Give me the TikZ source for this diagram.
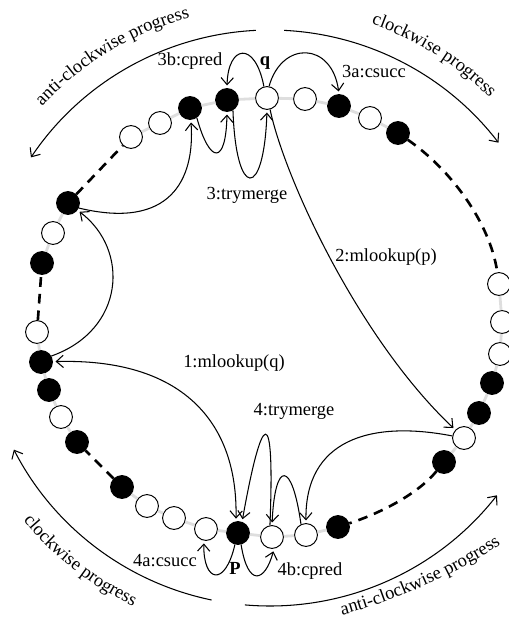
\documentclass[tikz,border=0pt]{standalone}
\usepackage{fontspec}
\setmainfont{Liberation Serif}
\usetikzlibrary{arrows.meta,decorations.text}
\newcommand\lblfont{\rmfamily\fontsize{10.5}{12}\selectfont}
\begin{document}
\begin{tikzpicture}[x=0.02cm,y=-0.02cm,
  wn/.style={circle,draw,fill=white,line width=0.55pt,minimum size=13pt,inner sep=0pt},
  bn/.style={wn,fill=black},
  ring/.style={line width=1.6pt,black!13},
  dsh/.style={line width=1.5pt,dash pattern=on 5.5pt off 4pt},
  arr/.style={line width=0.6pt,-{Straight Barb[length=4pt,width=7pt]}},
  con/.style={arr,shorten >=1.5pt},
  lbl/.style={font=\lblfont,inner sep=0pt},
  bold/.style={font=\lblfont\bfseries,inner sep=0pt},
]
\useasboundingbox (0,0) rectangle (508,626);
\coordinate (C) at (270,318);
% ring nodes
\node[wn] (n1) at (131,137) {};
\node[wn] (n2) at (160,123) {};
\node[bn] (n3) at (190,108) {};
\node[bn] (n4) at (227,100) {};
\node[wn] (q) at (267,98) {};
\node[wn] (n6) at (305,99) {};
\node[bn] (n7) at (339,106) {};
\node[wn] (n8) at (370,118) {};
\node[bn] (n9) at (398,133) {};
\node[wn] (r1) at (499,284) {};
\node[wn] (r2) at (502,322) {};
\node[wn] (r3) at (500,354) {};
\node[bn] (r4) at (492,383) {};
\node[bn] (r5) at (479,413) {};
\node[wn] (r6) at (464,438) {};
\node[bn] (r7) at (444,462) {};
\node[bn] (b1) at (338,527) {};
\node[wn] (b2) at (306,535) {};
\node[wn] (b3) at (272,537) {};
\node[bn] (p) at (238,533) {};
\node[wn] (b5) at (206,529) {};
\node[wn] (b6) at (174,518) {};
\node[wn] (b7) at (147,506) {};
\node[bn] (b8) at (122,487) {};
\node[bn] (l1) at (77,442) {};
\node[wn] (l2) at (61,417) {};
\node[bn] (l3) at (49,390) {};
\node[bn] (l4) at (41,362) {};
\node[wn] (l5) at (37,332) {};
\node[bn] (l6) at (42,263) {};
\node[wn] (l7) at (53,233) {};
\node[bn] (l8) at (68,203) {};
% ring segments
\draw[ring] (n1)--(n2) (n2)--(n3) (n3)--(n4) (n4)--(q) (q)--(n6) (n6)--(n7) (n7)--(n8) (n8)--(n9);
\draw[ring] (r1)--(r2) (r2)--(r3) (r3)--(r4) (r4)--(r5) (r5)--(r6) (r6)--(r7);
\draw[ring] (b1)--(b2) (b2)--(b3) (b3)--(p) (p)--(b5) (b5)--(b6) (b6)--(b7) (b7)--(b8);
\draw[ring] (l1)--(l2) (l2)--(l3) (l3)--(l4) (l4)--(l5);
\draw[ring] (l6)--(l7) (l7)--(l8);
\draw[dsh] (n9) .. controls (450,169) and (490,222) .. (r1);
\draw[dsh] (r7) .. controls (417,495) and (378,514) .. (b1);
\draw[dsh] (b8) -- (l1);
\draw[dsh] (l5) -- (l6);
\draw[dsh] (l8) -- (n1);
% labels
\node[lbl] (t3b) at (190,61) {3b:cpred};
\node[bold] (tq) at (265,63) {q};
\node[lbl] (t3a) at (374,72) {3a:csucc};
\node[lbl] (t3) at (247,195) {3:trymerge};
\node[lbl] (t2) at (386,257) {2:mlookup(p)};
\node[lbl] (t1) at (234,363) {1:mlookup(q)};
\node[lbl] (t4) at (294,411) {4:trymerge};
\node[lbl] (t4a) at (165,561) {4a:csucc};
\node[bold] (tp) at (235,568) {P};
\node[lbl] (t4b) at (310,571) {4b:cpred};
% connectors
\draw[con] (n3.-55) .. controls (210,165) and (226,165) .. (n4.south);
\draw[con] (n4.-60) .. controls (236,200) and (264,200) .. (q.south);
\draw[con] (q.105) .. controls (255,40) and (228,45) .. (n4.north);
\draw[con] (q.80) .. controls (282,40) and (332,42) .. (n7.north);
\draw[con] (q.-75) .. controls (285,180) and (360,340) .. (r6);
\draw[con] (r6.170) .. controls (370,420) and (305,440) .. (b2.north);
\draw[con] (b2.115) .. controls (292,460) and (275,460) .. (b3.north);
\draw[con] (b3.100) .. controls (275,400) and (262,410) .. (p.70);
\draw[con,shorten <=1.5pt,{Straight Barb[length=4pt,width=7pt]}-{Straight Barb[length=4pt,width=7pt]}] (p.100) .. controls (238,420) and (180,358) .. (l4);
\draw[con] (l4.30) .. controls (125,330) and (130,250) .. (l8);
\draw[con] (l8.-25) .. controls (170,230) and (195,180) .. (n3);
\draw[con] (p.-105) .. controls (225,588) and (203,582) .. (b5.-100);
\draw[con] (p.-75) .. controls (248,588) and (265,582) .. (b3.-80);
% outer progress arrows
\draw[arr] ([shift={(-92.8:288)}]C) arc[start angle=-92.8,end angle=-146.1,radius=288];
\draw[arr] ([shift={(-87.2:288)}]C) arc[start angle=-87.2,end angle=-37.5,radius=288];
\draw[arr] ([shift={(101.7:288)}]C) arc[start angle=101.7,end angle=152.8,radius=288];
\draw[arr] ([shift={(95:288)}]C) arc[start angle=95,end angle=38,radius=288];
\path[decorate,decoration={text along path,text={|\lblfont|anti-clockwise progress},text align=center}]
  ([shift={(-141:311)}]C) arc[start angle=-141,end angle=-101,radius=311];
\path[decorate,decoration={text along path,text={|\lblfont|clockwise progress},text align=center}]
  ([shift={(-76:311)}]C) arc[start angle=-76,end angle=-40,radius=311];
\path[decorate,decoration={text along path,text={|\lblfont|clockwise progress},text align=center}]
  ([shift={(-212:319)}]C) arc[start angle=-212,end angle=-252,radius=319];
\coordinate (ts) at (322,620);
\coordinate (te) at (518,532);
\path[decorate,decoration={text along path,text={|\lblfont|anti-clockwise progress},text align=center}]
  (ts) .. controls (388,606) and (468,570) .. (te);
\end{tikzpicture}
\end{document}
